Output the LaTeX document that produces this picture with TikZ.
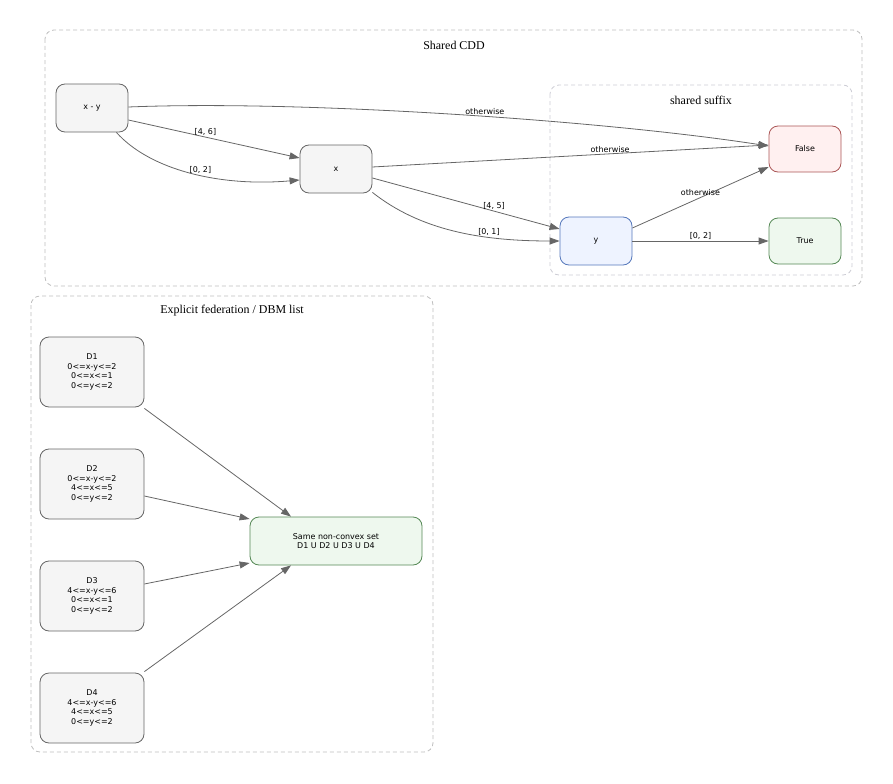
\documentclass[tikz,border=0pt]{standalone}
\usepackage{fontspec}
\setmainfont{Liberation Serif}
\newfontfamily\lblfont{DejaVu Sans}
\usetikzlibrary{arrows.meta}
\definecolor{edgegray}{HTML}{666666}
\definecolor{boxgray}{HTML}{F5F5F5}
\definecolor{ybox}{HTML}{EEF3FF}
\definecolor{yline}{HTML}{5577BB}
\definecolor{fbox}{HTML}{FFF0F0}
\definecolor{fline}{HTML}{AA5555}
\definecolor{tbox}{HTML}{EEF8EE}
\definecolor{tline}{HTML}{558855}
\tikzset{
  st/.style={draw=edgegray,fill=boxgray,rounded corners=9bp,align=center,line width=0.8bp,
    font=\lblfont\fontsize{8}{9.5}\selectfont,inner sep=0pt},
  cl/.style={draw=black!25,dashed,rounded corners=9bp,line width=0.8bp,dash pattern=on 4bp off 3bp},
  lbl/.style={font=\lblfont\fontsize{8}{9.5}\selectfont,inner sep=1pt},
  ttl/.style={font=\fontsize{12}{14}\selectfont},
  ed/.style={draw=edgegray,line width=0.8bp,->}
}
\begin{document}
\begin{tikzpicture}[x=1bp,y=-1bp,>={Triangle[length=10bp,width=7bp]}]
\useasboundingbox (0,0) rectangle (893,784);
\draw[cl] (45,30) rectangle (862,286);
\node[ttl] (tcdd) at (454,45) {Shared CDD};
\draw[cl,draw=blue!15!black!20] (550,85) rectangle (852,275);
\node[ttl] (tsuf) at (701,100) {shared suffix};
\draw[cl] (31,296) rectangle (433,752);
\node[ttl] (tfed) at (232,311) {Explicit federation / DBM list};
\node[st,minimum width=72bp,minimum height=48bp] (XY) at (92,108) {x - y};
\node[st,minimum width=72bp,minimum height=48bp] (X) at (336,169) {x};
\node[st,minimum width=72bp,minimum height=48bp,fill=ybox,draw=yline] (Y) at (596,241) {y};
\node[st,minimum width=72bp,minimum height=46bp,fill=fbox,draw=fline] (F) at (805,149) {False};
\node[st,minimum width=72bp,minimum height=46bp,fill=tbox,draw=tline] (T) at (805,241) {True};
\node[st,minimum width=104bp,minimum height=70bp] (D1) at (92,372) {D1\\0<=x-y<=2\\0<=x<=1\\0<=y<=2};
\node[st,minimum width=104bp,minimum height=70bp] (D2) at (92,484) {D2\\0<=x-y<=2\\4<=x<=5\\0<=y<=2};
\node[st,minimum width=104bp,minimum height=70bp] (D3) at (92,596) {D3\\4<=x-y<=6\\0<=x<=1\\0<=y<=2};
\node[st,minimum width=104bp,minimum height=70bp] (D4) at (92,708) {D4\\4<=x-y<=6\\4<=x<=5\\0<=y<=2};
\node[st,minimum width=172bp,minimum height=48bp,fill=tbox,draw=tline] (S) at (336,541) {Same non-convex set\\D1 U D2 U D3 U D4};
% shared CDD
\draw[ed] ([yshift=1bp]XY.east) .. controls (300,100) and (600,120) .. ([yshift=3bp]F.west)
  node[lbl,above,pos=0.55] {otherwise};
\draw[ed] ([yshift=-12bp]XY.east) -- node[lbl,above,pos=0.45] {[4, 6]} ([yshift=11bp]X.west);
\draw[ed] ([xshift=-12bp]XY.south east) .. controls (150,170) and (220,187) .. ([yshift=-11bp]X.west)
  node[lbl,above,pos=0.55] {[0, 2]};
\draw[ed] ([yshift=2bp]X.east) -- node[lbl,above,pos=0.6] {otherwise} ([yshift=4bp]F.west);
\draw[ed] ([yshift=-9bp]X.east) -- node[lbl,above,pos=0.65] {[4, 5]} ([yshift=12bp]Y.west);
\draw[ed] ([yshift=1bp]X.south east) .. controls (420,230) and (480,241) .. (Y.west)
  node[lbl,above,pos=0.68] {[0, 1]};
\draw[ed] ([yshift=13bp]Y.east) -- node[lbl,above,pos=0.5] {otherwise} ([yshift=-18bp]F.west);
\draw[ed] (Y) -- node[lbl,above] {[0, 2]} (T);
% federation
\draw[ed] ([yshift=-1bp]D1.south east) -- ([xshift=-45bp]S.north);
\draw[ed] ([yshift=-12bp]D2.east) -- (S.north west |- 0,519);
\draw[ed] ([yshift=12bp]D3.east) -- (S.north west |- 0,563);
\draw[ed] ([yshift=1bp]D4.north east) -- ([xshift=-45bp]S.south);
\end{tikzpicture}
\end{document}
